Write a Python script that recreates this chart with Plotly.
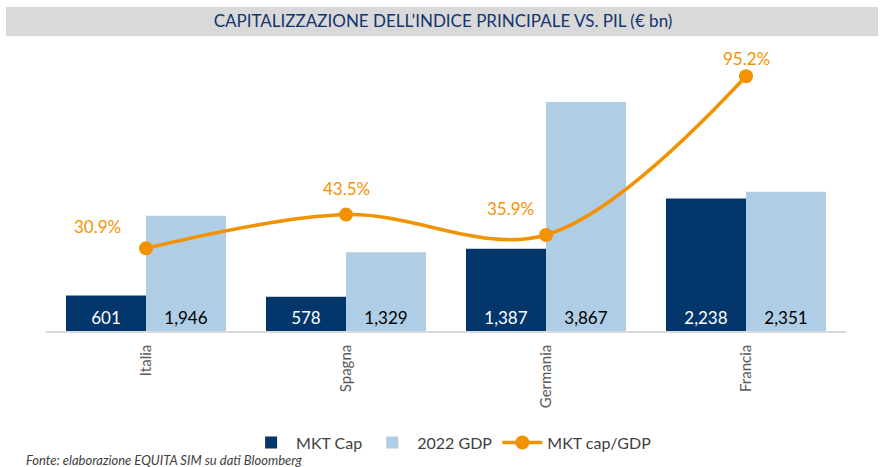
import plotly.graph_objects as go

COUNTRIES = ["Italia", "Spagna", "Germania", "Francia"]
MKT_CAP = [601, 578, 1387, 2238]
GDP_2022 = [1946, 1329, 3867, 2351]
CAP_GDP = [30.9, 43.5, 35.9, 95.2]

NAVY = "#03366A"
LIGHT_BLUE = "#AFCDE5"
ORANGE = "#F39200"
FONT = "Lato, 'Open Sans', sans-serif"

fig = go.Figure()
fig.add_trace(
    go.Bar(
        x=COUNTRIES, y=MKT_CAP, name="MKT Cap", marker_color=NAVY,
        text=[f"{v:,}" for v in MKT_CAP], textposition="inside",
        insidetextanchor="start", textangle=0,
        textfont=dict(color="white", size=17), marker_line_width=0,
    )
)
fig.add_trace(
    go.Bar(
        x=COUNTRIES, y=GDP_2022, name="2022 GDP", marker_color=LIGHT_BLUE,
        text=[f"{v:,}" for v in GDP_2022], textposition="inside",
        insidetextanchor="start", textangle=0,
        textfont=dict(color="black", size=17), marker_line_width=0,
    )
)
fig.add_trace(
    go.Scatter(
        x=COUNTRIES, y=CAP_GDP, name="MKT cap/GDP", yaxis="y2",
        mode="lines+markers", line=dict(color=ORANGE, width=3.5, shape="spline", smoothing=1),
        marker=dict(size=14, color=ORANGE),
    )
)

# data labels for the ratio line
label_shift = {"Italia": (-49, 22), "Spagna": (0, 26), "Germania": (-36, 26), "Francia": (0, 18)}
for c, v in zip(COUNTRIES, CAP_GDP):
    dx, dy = label_shift[c]
    fig.add_annotation(
        x=c, y=v, xref="x", yref="y2", text=f"{v:.1f}%", showarrow=False,
        xshift=dx, yshift=dy, font=dict(color=ORANGE, size=17),
    )

fig.add_shape(
    type="rect", xref="paper", yref="paper", x0=-0.05, x1=1.04, y0=1.031, y1=1.133,
    fillcolor="#D9D9D9", line_width=0, layer="below",
)
fig.add_annotation(
    text="Fonte: elaborazione EQUITA SIM su dati Bloomberg", xref="paper", yref="paper",
    x=-0.0275, y=-0.451, xanchor="left", yanchor="middle", showarrow=False,
    font=dict(size=13, color="#404040", family=FONT, style="italic"),
)

fig.update_layout(
    width=884, height=467,
    title=dict(
        text="CAPITALIZZAZIONE DELL’INDICE PRINCIPALE VS. PIL (€ bn)",
        font=dict(size=17, color="#13346E", family=FONT),
        x=443 / 884, xanchor="center", y=1 - 21 / 467, yanchor="middle",
    ),
    plot_bgcolor="white", paper_bgcolor="white",
    font=dict(family=FONT, color="#404040"),
    margin=dict(l=46, r=38, t=45, b=136, autoexpand=False),
    barmode="group", bargap=0.2, bargroupgap=0,
    showlegend=True,
    legend=dict(
        orientation="h", x=0.507, xanchor="center", y=-0.39, yanchor="middle",
        font=dict(size=16, color="#404040"), itemwidth=40,
    ),
    xaxis=dict(
        showline=True, linecolor="#D9D9D9", linewidth=1.5, tickangle=-90,
        tickfont=dict(size=15, color="#595959"), ticks="outside", ticklen=6,
        tickcolor="white", showgrid=False, automargin=False,
    ),
    yaxis=dict(range=[0, 4830], visible=False, showgrid=False, automargin=False),
    yaxis2=dict(range=[0, 106.9], overlaying="y", visible=False, showgrid=False, automargin=False),
)

# drop the default page margin so the figure sits at the window's top-left corner
fig.write_html(
    "out.html",
    config={"displayModeBar": False},
    post_script="document.body.style.margin = '0';",
)
